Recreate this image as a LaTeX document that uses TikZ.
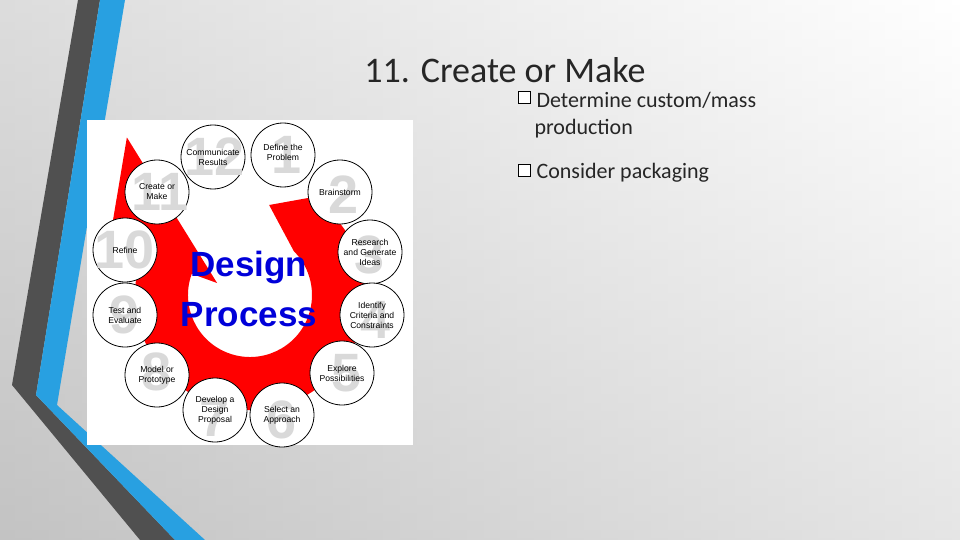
\documentclass[tikz,border=0pt]{standalone}
\usepackage{fontspec}
\setmainfont{Carlito}
\newfontfamily\arialf{Liberation Sans}
\usetikzlibrary{calc}
\definecolor{barblue}{RGB}{40,160,225}
\definecolor{bardark}{RGB}{80,80,80}
\begin{document}
\begin{tikzpicture}[x=1pt,y=-1pt,
  stepc/.style={circle,draw=black,line width=0.8pt,fill=white,minimum size=64pt,inner sep=0pt},
  dig/.style={text=gray!30,font=\arialf\bfseries\fontsize{54}{54}\selectfont},
  lab/.style={align=center,inner sep=1pt,font=\arialf\fontsize{8.6}{10}\selectfont},
  bul/.style={draw=black,fill=white,minimum size=12pt,inner sep=0pt}]
\useasboundingbox (0,0) rectangle (960,540);
\begin{scope}[y=1pt]
\shade[left color=gray!45,right color=white] (0,0) rectangle (960,-540);
\shade[top color=white,bottom color=gray!50,opacity=0.4] (0,0) rectangle (960,-540);
\end{scope}
% left bars
\fill[bardark] (78,0) -- (100,0) -- (36,395) -- (175,540) -- (140,540) -- (12,385) -- cycle;
\fill[barblue] (100,0) -- (125,0) -- (57,405) -- (205,540) -- (175,540) -- (36,395) -- cycle;
% image
\fill[white] (87,120) rectangle (413,445);
\coordinate (c) at (250,295);
\fill[red] ($(c)+(-78:92)$) -- ($(c)+(-58:115)$) arc[start angle=-58,end angle=200,radius=115]
  -- ($(c)+(200:150)$) -- ($(c)+(232:200)$) -- ($(c)+(200:35)$) -- ($(c)+(200:62)$)
  arc[start angle=200,end angle=-45,radius=62] -- cycle;
\foreach \n/\x/\y/\dx/\dy in {1/283/155/4/0,2/340/192/4/3,3/370/252/0/3,4/372/315/4/5,5/342/373/5/0,6/282/415/0/5,7/215/410/0/8,8/157/375/0/-3,9/125/315/0/0,10/125/250/0/0,11/157/192/3/0,12/213/157/2/0}{
  \node[stepc] (s\n) at (\x,\y) {};
  \node[dig] (d\n) at (\x+\dx,\y+\dy) {\n};
}
\node[lab] (t1) at ($(s1)+(0,-3)$) {Define the\\Problem};
\node[lab] (t2) at (s2) {Brainstorm};
\node[lab] (t3) at (s3) {Research\\and Generate\\Ideas};
\node[lab] (t4) at (s4) {Identify\\Criteria and\\Constraints};
\node[lab] (t5) at (s5) {Explore\\Possibilities};
\node[lab] (t6) at (s6) {Select an\\Approach};
\node[lab] (t7) at (s7) {Develop a\\Design\\Proposal};
\node[lab] (t8) at (s8) {Model or\\Prototype};
\node[lab] (t9) at (s9) {Test and\\Evaluate};
\node[lab] (t10) at (s10) {Refine};
\node[lab] (t11) at (s11) {Create or\\Make};
\node[lab] (t12) at (s12) {Communicate\\Results};
\node (dz) at (249,268) [text=blue!85!black,font=\arialf\bfseries\fontsize{35}{35}\selectfont] {Design};
\node (pz) at (249,315) [text=blue!85!black,font=\arialf\bfseries\fontsize{35}{35}\selectfont] {Process};
% title and bullets
\node (title) at (505,70) [font=\fontsize{36}{36}\selectfont,text=black!85] {11. Create or Make};
\node[bul] (b1) at (524,97) {};
\node (l1) at (533,100) [anchor=west,font=\fontsize{22}{22}\selectfont,text=black!85] {Determine custom/mass};
\node (l1b) at (531,129) [anchor=west,font=\fontsize{22}{22}\selectfont,text=black!85] {production};
\node[bul] (b2) at (524,170) {};
\node (l2) at (533,173) [anchor=west,font=\fontsize{22}{22}\selectfont,text=black!85] {Consider packaging};
\end{tikzpicture}
\end{document}
